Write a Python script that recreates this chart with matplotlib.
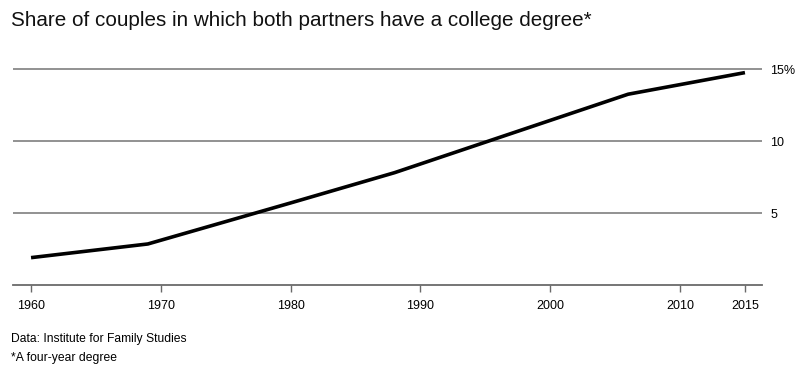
import matplotlib
matplotlib.use("Agg")
import matplotlib.pyplot as plt

# dane
years = [1960, 1969, 1980, 1988, 2006, 2015]
share = [1.9, 2.85, 5.7, 7.8, 13.25, 14.75]
xticks = [1960, 1970, 1980, 1990, 2000, 2010, 2015]
yticks = [5, 10, 15]
ylabels = ["5", "10", "15%"]

plt.rcParams['font.family'] = ['Liberation Sans', 'DejaVu Sans']

fig = plt.figure(figsize=(8, 3.71), dpi=100)
ax = fig.add_axes([0.01625, 0.2318, 0.9362, 0.6016])

ax.plot(years, share, color='black', lw=2.6, solid_joinstyle='round', solid_capstyle='butt', zorder=3)

ax.set_xlim(1958.61, 2016.31)
ax.set_ylim(0, 15.5)

# siatka pozioma
for v in yticks:
    ax.axhline(v, color='#7f7f7f', lw=1.2, zorder=1)

for s in ['top', 'right', 'left']:
    ax.spines[s].set_visible(False)
ax.spines['bottom'].set_color('#6a6a6a')
ax.spines['bottom'].set_linewidth(1.3)

ax.set_xticks(xticks)
ax.set_xticklabels([str(x) for x in xticks], fontsize=9)
ax.tick_params(axis='x', length=5, width=1, color='#6a6a6a', pad=6)

ax.yaxis.tick_right()
ax.set_yticks(yticks)
ax.set_yticklabels(ylabels, fontsize=9)
ax.tick_params(axis='y', length=0, pad=6)

fig.text(0.014, 0.945, "Share of couples in which both partners have a college degree*",
         fontsize=14.9, va='center', ha='left', color='#111111')
fig.text(0.014, 0.086, "Data: Institute for Family Studies", fontsize=8.7, va='center', ha='left')
fig.text(0.014, 0.035, "*A four-year degree", fontsize=8.7, va='center', ha='left')

fig.savefig("out.png", dpi=100)
